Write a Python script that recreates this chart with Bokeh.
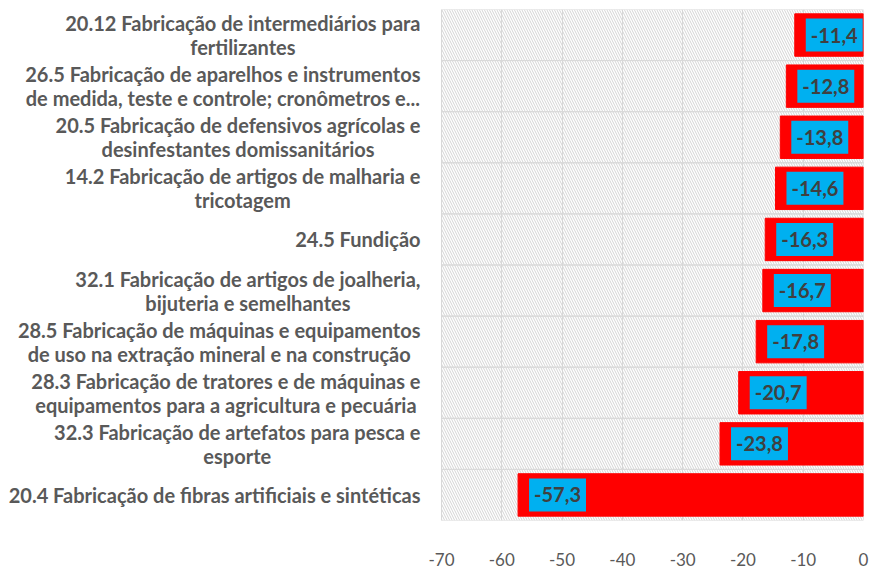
import glob, subprocess
from bokeh.plotting import figure
from bokeh.models import ColumnDataSource, FixedTicker, Range1d, Label
from bokeh.embed import file_html
from bokeh.resources import INLINE

categories = [
    "20.12 Fabricação de intermediários para\nfertilizantes",
    "26.5 Fabricação de aparelhos e instrumentos\nde medida, teste e controle; cronômetros e...",
    "20.5 Fabricação de defensivos agrícolas e\ndesinfestantes domissanitários",
    "14.2 Fabricação de artigos de malharia e\ntricotagem",
    "24.5 Fundição",
    "32.1 Fabricação de artigos de joalheria,\nbijuteria e semelhantes",
    "28.5 Fabricação de máquinas e equipamentos\nde uso na extração mineral e na construção",
    "28.3 Fabricação de tratores e de máquinas e\nequipamentos para a agricultura e pecuária",
    "32.3 Fabricação de artefatos para pesca e\nesporte",
    "20.4 Fabricação de fibras artificiais e sintéticas",
]
values = [-11.4, -12.8, -13.8, -14.6, -16.3, -16.7, -17.8, -20.7, -23.8, -57.3]
x_ticks = [-70, -60, -50, -40, -30, -20, -10, 0]

n = len(categories)
ypos = [n - 1 - i for i in range(n)]
labels = [f"{v:.1f}".replace(".", ",") for v in values]

CAT_FONT_SIZE = 20
AXIS_LEFT_PX = 441      # where -70 sits on the canvas
AXIS_WIDTH_PX = 422     # pixel span from -70 to 0
STANDOFF = 21
XMIN, XMAX = x_ticks[0], x_ticks[-1]


def find_font():
    try:
        path = subprocess.run(["fc-match", "-f", "%{file}", "Lato:bold"],
                              capture_output=True, text=True).stdout.strip()
        if path:
            return path
    except Exception:
        pass
    hits = glob.glob("/usr/share/fonts/**/Lato-Bold.ttf", recursive=True)
    return hits[0] if hits else None


def measure(line):
    try:
        from PIL import ImageFont
        f = ImageFont.truetype(find_font(), CAT_FONT_SIZE)
        return f.getlength(line)
    except Exception:
        return len(line) * CAT_FONT_SIZE * 0.41


src = ColumnDataSource(dict(y=ypos, v=values, zero=[XMAX] * n, lo=[XMIN] * n, lab=labels))

x_start = XMIN - AXIS_LEFT_PX * (XMAX - XMIN) / AXIS_WIDTH_PX
p = figure(width=871, height=568, output_backend="svg", toolbar_location=None,
           x_range=Range1d(x_start, XMAX), y_range=Range1d(-0.5, n - 0.5),
           min_border_left=0, min_border_right=8, min_border_top=9, min_border_bottom=27)
p.outline_line_color = None
p.background_fill_color = "white"
p.border_fill_color = "white"

p.xgrid.ticker = FixedTicker(ticks=x_ticks)
p.xgrid.grid_line_color = "#d9d9d9"
p.xgrid.grid_line_width = 1
p.ygrid.grid_line_color = None

# hatched category bands with light grey borders
p.hbar(y="y", left="lo", right="zero", height=1.0, source=src,
       fill_alpha=0, line_color="#d9d9d9", line_width=1,
       hatch_pattern="left_diagonal_line", hatch_color="#d4d4d4",
       hatch_scale=5, hatch_weight=1)

p.hbar(y="y", left="v", right="zero", height=0.83, source=src,
       fill_color="#ff0000", line_color="#ff0000")

for yy, v, lab in zip(ypos, values, labels):
    p.add_layout(Label(x=v, y=yy, text=lab, x_offset=11,
                       text_align="left", text_baseline="middle",
                       text_font="Lato", text_font_style="bold", text_font_size="20px",
                       text_color="#404040", background_fill_color="#00b0f0",
                       padding=dict(left=5, right=5, top=9, bottom=9)))

# category labels: block right-aligned next to the plot, lines centred within block
for yy, cat in zip(ypos, categories):
    w = max(measure(line) for line in cat.split("\n"))
    cx = AXIS_LEFT_PX - STANDOFF - w / 2.0
    p.add_layout(Label(x=cx, x_units="screen", y=yy, y_units="data", text=cat,
                       text_align="center", text_baseline="middle",
                       text_font="Lato", text_font_style="bold",
                       text_font_size=f"{CAT_FONT_SIZE}px", text_line_height=1.0,
                       text_color="#595959"))

p.xaxis.ticker = FixedTicker(ticks=x_ticks)
p.xaxis.major_label_overrides = {t: str(t) for t in x_ticks}
p.xaxis.axis_line_color = None
p.xaxis.major_tick_line_color = None
p.xaxis.minor_tick_line_color = None
p.xaxis.major_label_text_font = "Lato"
p.xaxis.major_label_text_font_size = "17px"
p.xaxis.major_label_text_color = "#595959"
p.xaxis.major_label_standoff = 26

p.yaxis.visible = False

open("out.html", "w").write(file_html(p, INLINE))
